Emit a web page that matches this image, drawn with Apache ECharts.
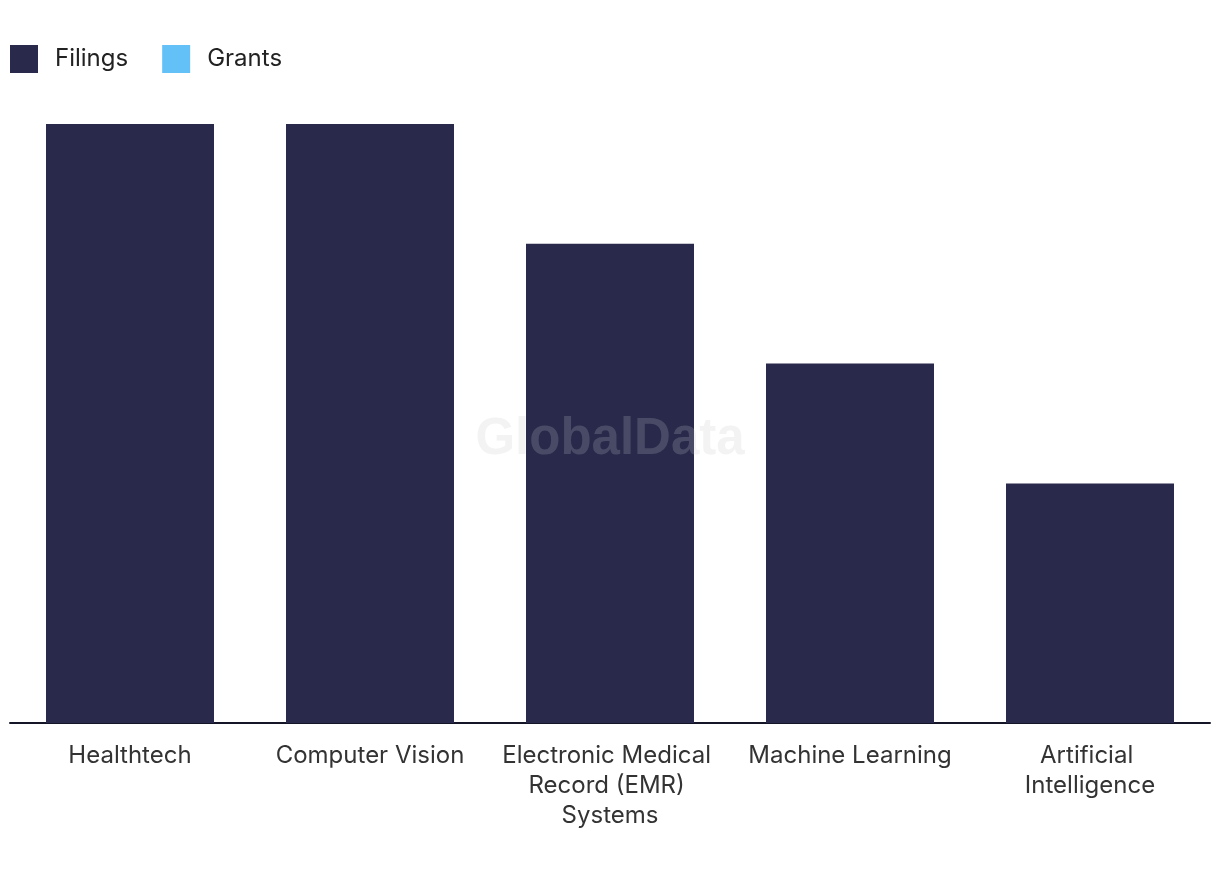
<!DOCTYPE html>
<html><head><meta charset="utf-8">
<script src="https://cdn.jsdelivr.net/npm/echarts@6/dist/echarts.min.js"></script>
<style>html,body{margin:0;padding:0;background:#fff}#c{width:1220px;height:880px}</style>
</head><body><div id="c"></div>
<script>
const categories = ["Healthtech", "Computer Vision", "Electronic Medical Record (EMR) Systems", "Machine Learning", "Artificial Intelligence"];
const filings = [5, 5, 4, 3, 2];
const grants = [0, 0, 0, 0, 0];

const chart = echarts.init(document.getElementById('c'));
chart.setOption({
  animation: false,
  legend: {
    left: 10, top: 45, padding: 0, itemWidth: 28, itemHeight: 28, itemGap: 34,
    icon: 'rect',
    textStyle: { fontFamily: 'Inter', fontSize: 24, color: '#222', padding: [0, 0, 0, 12] },
    data: ['Filings', 'Grants']
  },
  grid: { left: 10, right: 10, top: 124, bottom: 157, containLabel: false },
  xAxis: {
    type: 'category', data: categories,
    axisLine: { lineStyle: { color: '#151528', width: 2 } },
    axisTick: { show: false },
    axisLabel: { interval: 0, width: 222, overflow: 'break', lineHeight: 30, margin: 18,
      fontFamily: 'Inter', fontSize: 24, color: '#333' }
  },
  yAxis: { type: 'value', min: 0, max: 5, show: false, splitLine: { show: false } },
  graphic: [{
    type: 'text', left: 'center', top: 414, z: 100,
    style: { text: 'GlobalData', font: 'bold 51px "Liberation Sans", Arial, sans-serif', fill: 'rgba(200,200,200,0.21)' }
  }],
  series: [
    { name: 'Filings', type: 'bar', stack: 's', data: filings, barWidth: 168, itemStyle: { color: '#28294b' } },
    { name: 'Grants', type: 'bar', stack: 's', data: grants, barWidth: 168, itemStyle: { color: '#63c1f8' } }
  ]
});
</script></body></html>
